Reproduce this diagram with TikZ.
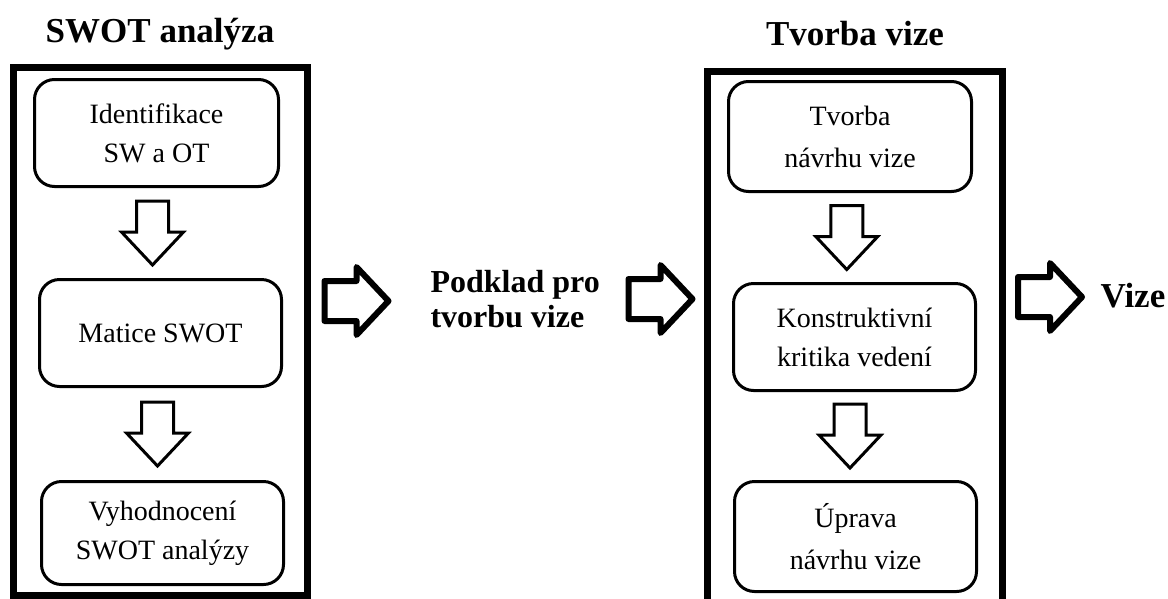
\documentclass[tikz,border=0pt]{standalone}
\usepackage{fontspec}
\setmainfont{Liberation Serif}
\usetikzlibrary{calc}
\tikzset{
  px/.style={x=1pt,y=-1pt},
  outerbox/.style={draw=black,line width=7pt},
  stepbox/.style={draw=black,line width=3pt,rounded corners=20pt,align=center,inner sep=0pt,
    font=\fontsize{28}{39}\selectfont},
  title/.style={font=\bfseries\fontsize{35}{40}\selectfont,anchor=base},
  downarrow/.pic={\draw[line width=3pt,line join=miter,fill=white]
     (-16,-32) -- (16,-32) -- (16,-1) -- (31,-1) -- (0,32) -- (-31,-1) -- (-16,-1) -- cycle;},
  rightarrow/.pic={\draw[line width=6pt,line join=round,fill=white]
     (-32,-20) -- (0,-20) -- (0,-34) -- (32,0) -- (0,34) -- (0,20) -- (-32,20) -- cycle;}
}
\begin{document}
\begin{tikzpicture}[px]
\useasboundingbox (0,0) rectangle (1168,598);
% left group
\node[title] (swot) at (160,42) {SWOT analýza};
\draw[outerbox] (13,67) rectangle (307,595);
\node[stepbox,minimum width=244pt,minimum height=107pt] (b1) at (156.5,133) {Identifikace\\SW a OT};
\node[stepbox,minimum width=242pt,minimum height=107pt] (b2) at (160.5,333) {Matice SWOT};
\node[stepbox,minimum width=242pt,minimum height=103pt] (b3) at (162.5,533) {Vyhodnocení\\SWOT analýzy};
\pic at ($($(b1.south)!0.5!(b2.north)$)+(-6,0)$) {downarrow};
\pic at ($($(b2.south)!0.5!(b3.north)$)+(-4,0)$) {downarrow};
% middle
\coordinate (ra) at (356.5,301);
\pic at (ra) {rightarrow};
\node[font=\bfseries\fontsize{32}{35}\selectfont,align=left,anchor=base west] (podklad) at (427,327) {Podklad pro\\tvorbu vize};
\coordinate (rb) at (660.5,299);
\pic at (rb) {rightarrow};
% right group
\node[title] (tv) at (855,45) {Tvorba vize};
\draw[outerbox] (707,605) -- (707,71) -- (1002,71) -- (1002,605);
\node[stepbox,minimum width=243pt,minimum height=110pt,font=\fontsize{28}{42}\selectfont] (c1) at (850,136.5) {Tvorba\\návrhu vize};
\node[stepbox,minimum width=242pt,minimum height=107pt] (c2) at (854.5,337) {Konstruktivní\\kritika vedení};
\node[stepbox,minimum width=242pt,minimum height=110pt,font=\fontsize{28}{42}\selectfont] (c3) at (855.5,536.5) {Úprava\\návrhu vize};
\pic at ($($(c1.south)!0.5!(c2.north)$)+(-5.5,0)$) {downarrow};
\pic at ($($(c2.south)!0.5!(c3.north)$)+(-5,0)$) {downarrow};
\coordinate (rc) at (1050,297);
\pic at (rc) {rightarrow};
\node[font=\bfseries\fontsize{35}{40}\selectfont,anchor=base west] (vize) at (1097,307) {Vize};
\end{tikzpicture}
\end{document}
